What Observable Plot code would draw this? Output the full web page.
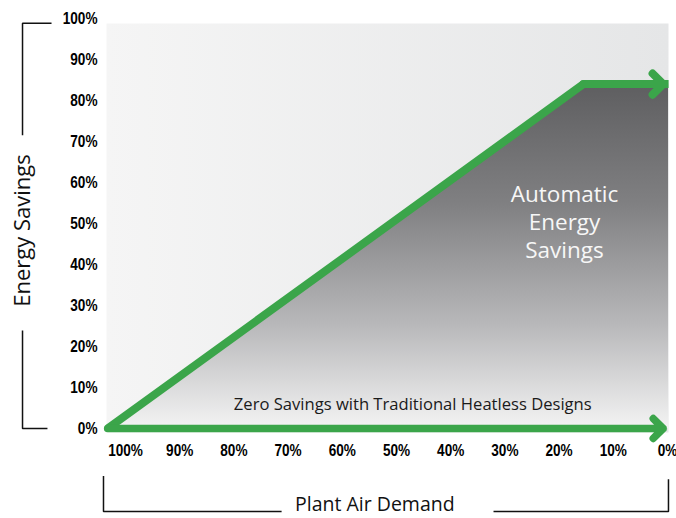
<!DOCTYPE html>
<html><head><meta charset="utf-8">
<script src="https://cdn.jsdelivr.net/npm/d3@7"></script>
<script src="https://cdn.jsdelivr.net/npm/@observablehq/plot@0.6"></script>
<style>
body{margin:0;background:#fff;}
svg{display:block}
</style>
</head><body><div id="chart"></div>
<script>
// Tick values
const demandTicks = [100, 90, 80, 70, 60, 50, 40, 30, 20, 10, 0];
const savingsTicks = [0, 10, 20, 30, 40, 50, 60, 70, 80, 90, 100];

// Savings curve (plant air demand % -> energy savings %)
const curveDemand = [103.3, 15.5, -0.2];
const curveSavings = [0, 84, 84];

// Arrow heads
const topArrowDemand = [15.5, 0.8];
const topArrowSavings = [84, 84];
const baseArrowDemand = [103.3, 0.8];
const baseArrowSavings = [0, 0];

// Annotations
const annoText = ["Automatic\nEnergy\nSavings", "Zero Savings with Traditional Heatless Designs"];
const annoDemand = [19, 47];
const annoSavings = [50.6, 5.9];

const axisTitles = ["Energy Savings", "Plant Air Demand"];
const axisTitleDemand = [119.0, 54.0];
const axisTitleSavings = [48.3, -18.6];

// Bracket decorations (data units)
const bracketYTop = {demand: [113.65, 119.0, 119.0], savings: [98.85, 98.85, 71.5]};
const bracketYBottom = {demand: [119.0, 119.0, 114.4], savings: [23.9, 0, 0]};
const bracketXLeft = {demand: [104.06, 104.06, 71.2], savings: [-11.6, -20.24, -20.24]};
const bracketXRight = {demand: [32.1, -0.18, -0.18], savings: [-20.24, -20.24, -12.4]};

const green = "#3ba54a";
const tickFont = "'Liberation Sans','Arial',sans-serif";
const labelFont = "'Open Sans','Noto Sans',sans-serif";

const curve = curveDemand.map((d, i) => ({demand: d, savings: curveSavings[i]}));
const anno = annoText.map((t, i) => ({text: t, demand: annoDemand[i], savings: annoSavings[i]}));
const toRows = (b) => b.demand.map((d, i) => ({demand: d, savings: b.savings[i]}));

const chart = Plot.plot({
  width: 676,
  height: 518,
  marginLeft: 106,
  marginRight: 8,
  marginTop: 23,
  marginBottom: 86,
  style: {fontFamily: labelFont, background: "white", overflow: "visible"},
  x: {domain: [100, 0], range: [125, 667], axis: null},
  y: {domain: [0, 100], range: [428, 18], axis: null},
  marks: [
    Plot.frame({fill: "url(#bgGrad)", stroke: "none"}),
    Plot.areaY(curve, {x: "demand", y: "savings", fill: "url(#darkGrad)"}),
    // tick labels
    Plot.text(demandTicks, {x: d => d, frameAnchor: "bottom", dy: 23, text: d => d + "%",
      fontFamily: tickFont, fontWeight: "bold", fontSize: 17, fill: "#000", className: "ticklab"}),
    Plot.text(savingsTicks, {y: d => d, frameAnchor: "left", dx: -9, textAnchor: "end", text: d => d + "%",
      fontFamily: tickFont, fontWeight: "bold", fontSize: 17, fill: "#000", className: "ticklab"}),
    // green curve with arrows
    Plot.line(curve, {x: "demand", y: "savings", stroke: green, strokeWidth: 8,
      strokeLinejoin: "miter", strokeLinecap: "butt"}),
    Plot.arrow([0], {x1: () => topArrowDemand[0], x2: () => topArrowDemand[1],
      y1: () => topArrowSavings[0], y2: () => topArrowSavings[1],
      stroke: green, strokeWidth: 8, headLength: 2.8, headAngle: 90, strokeLinejoin: "miter"}),
    Plot.arrow([0], {x1: () => baseArrowDemand[0], x2: () => baseArrowDemand[1],
      y1: () => baseArrowSavings[0], y2: () => baseArrowSavings[1],
      stroke: green, strokeWidth: 7.5, headLength: 2.8, headAngle: 90, strokeLinejoin: "miter"}),
    // annotations
    Plot.text(anno.slice(0, 1), {x: "demand", y: "savings", text: "text", fill: "#f7f7f7",
      fontSize: 22.5, lineHeight: 1.25}),
    Plot.text(anno.slice(1), {x: "demand", y: "savings", text: "text", fill: "#1a1a1a",
      fontSize: 16.6}),
    // axis titles
    Plot.text(axisTitles.slice(0, 1), {x: () => axisTitleDemand[0], y: () => axisTitleSavings[0],
      text: d => d, rotate: -90, fontSize: 22, fill: "#111"}),
    Plot.text(axisTitles.slice(1), {x: () => axisTitleDemand[1], y: () => axisTitleSavings[1],
      text: d => d, fontSize: 19.5, fill: "#111"}),
    // brackets
    ...[bracketYTop, bracketYBottom, bracketXLeft, bracketXRight].map(b =>
      Plot.line(toRows(b), {x: "demand", y: "savings", stroke: "#111", strokeWidth: 1.5,
        strokeLinejoin: "miter", strokeLinecap: "butt"}))
  ]
});

d3.select(chart).insert("defs", ":first-child").html(`
  <linearGradient id="bgGrad" x1="0" y1="0" x2="1" y2="0">
    <stop offset="0" stop-color="#f5f5f5"/>
    <stop offset="1" stop-color="#e5e6e7"/>
  </linearGradient>
  <linearGradient id="darkGrad" x1="0" y1="0" x2="0" y2="1">
    <stop offset="0" stop-color="#5e5e60"/>
    <stop offset="0.35" stop-color="#808082"/>
    <stop offset="0.7" stop-color="#b8b8ba"/>
    <stop offset="1" stop-color="#f3f3f3"/>
  </linearGradient>`);

// condense the bold tick labels horizontally (narrow typeface look)
d3.select(chart).selectAll(".ticklab text").attr("transform", function() {
  return (this.getAttribute("transform") || "") + " scale(0.8,1)";
});

document.getElementById("chart").appendChild(chart);
</script>
</body></html>
